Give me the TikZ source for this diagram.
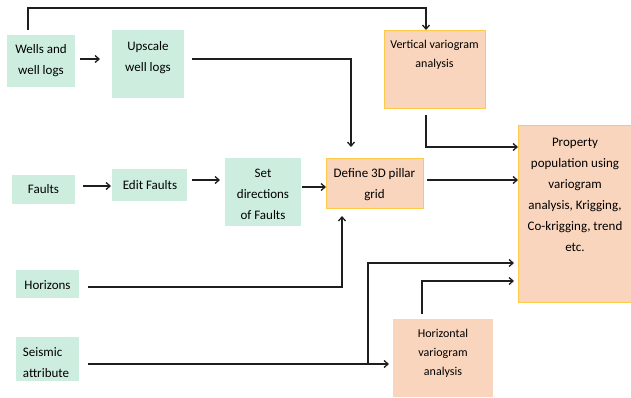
\documentclass[tikz,border=0pt]{standalone}
\usepackage{fontspec}
\setmainfont{Carlito}
\usetikzlibrary{arrows.meta,calc}
\definecolor{gfill}{HTML}{CDEEDF}
\definecolor{ofill}{HTML}{F9D5BD}
\definecolor{gold}{HTML}{FFC94A}
\definecolor{ln}{HTML}{1E1E1E}
\begin{document}
\begin{tikzpicture}[x=1pt,y=-1pt,
  gbox/.style={fill=gfill,draw=none},
  obox/.style={fill=ofill,draw=gold,line width=1pt},
  hbox/.style={fill=ofill,draw=none},
  txt/.style={font=\fontsize{13}{21}\selectfont,align=center,inner sep=0pt},
  stxt/.style={font=\fontsize{12}{19}\selectfont,align=center,inner sep=0pt},
  conn/.style={draw=ln,line width=1.3pt},
  arr/.style={conn,-{Straight Barb[length=4pt,width=7pt]}}]
\useasboundingbox[fill=white] (0,0) rectangle (631,397);
% boxes
\path[gbox] (7,35) rectangle (75,87) coordinate (wellsC);
\node[txt] (wells) at (41,61) {Wells and\\well logs};
\path[gbox] (112,30) rectangle (184,98);
\node[txt] (upscale) at (148,57.5) {Upscale\\well logs};
\path[obox] (384,30) rectangle (485,108);
\node[stxt] (vert) at (434.5,54.5) {Vertical variogram\\analysis};
\path[obox] (326,158) rectangle (423,208);
\node[txt] (define) at (374.5,184.5) {Define 3D pillar\\grid};
\path[obox] (518,125) rectangle (632,302);
\node[txt] (prop) at (575,194.5) {Property\\population using\\variogram\\analysis, Krigging,\\Co-krigging, trend\\etc.};
\path[gbox] (12,175) rectangle (75,204);
\node[txt] (faults) at (43.5,189.5) {Faults};
\path[gbox] (112,169) rectangle (187,201);
\node[txt] (edit) at (150,185) {Edit Faults};
\path[gbox] (225,158) rectangle (301,226);
\node[txt] (set) at (263,194.5) {Set\\directions\\of Faults};
\path[gbox] (16,270) rectangle (79,298);
\node[txt] (horizons) at (47.5,285.5) {Horizons};
\path[gbox] (16,337) rectangle (79,381);
\node[txt,align=left] (seismic) at (46,363) {Seismic\\attribute};
\path[hbox] (393,319) rectangle (493,397);
\node[stxt] (horiz) at (443,353.5) {Horizontal\\variogram\\analysis};
% connector end points
\coordinate (wTop) at (28,30);
\coordinate (vTop) at (426,30);
\coordinate (wR) at (80,59);
\coordinate (uL) at (100,59);
\coordinate (uR) at (192,59);
\coordinate (dTop) at (351,147);
\coordinate (vB) at (426,115);
\coordinate (pA) at (518,147);
\coordinate (dR) at (427,180);
\coordinate (pB) at (518,180);
\coordinate (fR) at (83,186);
\coordinate (eL) at (111,186);
\coordinate (eR) at (192,180);
\coordinate (sL) at (220,180);
\coordinate (sR) at (302,187);
\coordinate (dL) at (326,187);
\coordinate (hR) at (88,287);
\coordinate (dB) at (342,216);
\coordinate (sR2) at (88,364);
\coordinate (hzL) at (389,364);
\coordinate (br) at (368,364);
\coordinate (pC) at (514,263);
\coordinate (hzT) at (422,314);
\coordinate (pD) at (514,281);
% connectors
\draw[arr] (wTop) -- (28,8) -- (426,8) -- (vTop);
\draw[arr] (wR) -- (uL);
\draw[arr] (uR) -- (351,59) -- (dTop);
\draw[arr] (vB) -- (426,147) -- (pA);
\draw[arr] (dR) -- (pB);
\draw[arr] (fR) -- (eL);
\draw[arr] (eR) -- (sL);
\draw[arr] (sR) -- (dL);
\draw[arr] (hR) -- (342,287) -- (dB);
\draw[arr] (sR2) -- (hzL);
\draw[arr] (br) -- (368,263) -- (pC);
\draw[arr] (hzT) -- (422,281) -- (pD);
\end{tikzpicture}
\end{document}
